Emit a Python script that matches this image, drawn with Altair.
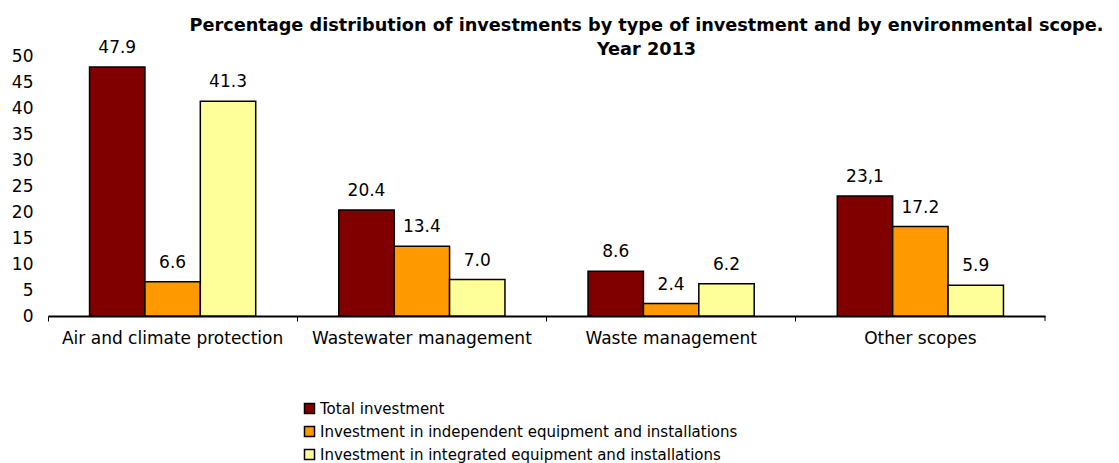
import altair as alt
import pandas as pd

categories = ["Air and climate protection", "Wastewater management",
              "Waste management", "Other scopes"]
series = ["Total investment",
          "Investment in independent equipment and installations",
          "Investment in integrated equipment and installations"]
total = [47.9, 20.4, 8.6, 23.1]
independent = [6.6, 13.4, 2.4, 17.2]
integrated = [41.3, 7.0, 6.2, 5.9]
total_labels = ["47.9", "20.4", "8.6", "23,1"]
independent_labels = ["6.6", "13.4", "2.4", "17.2"]
integrated_labels = ["41.3", "7.0", "6.2", "5.9"]
colors = ["#800000", "#FF9900", "#FFFF99"]
y_ticks = [0, 5, 10, 15, 20, 25, 30, 35, 40, 45, 50]
title_lines = ["Percentage distribution of investments by type of investment and by environmental scope.",
               "Year 2013"]

rows = []
for i, c in enumerate(categories):
    for s, vals, labs in zip(series, [total, independent, integrated],
                             [total_labels, independent_labels, integrated_labels]):
        rows.append({"category": c, "series": s, "value": vals[i], "label": labs[i]})
df = pd.DataFrame(rows)

FONT = "DejaVu Sans"
W, H = 997, 260

base = alt.Chart(df).encode(
    x=alt.X("category:N", sort=categories,
            scale=alt.Scale(paddingInner=0, paddingOuter=0),
            axis=alt.Axis(title=None, labelAngle=0, bandPosition=0,
                          domainColor="black", domainWidth=2,
                          tickColor="black", tickWidth=1, tickSize=5,
                          labelFont=FONT, labelFontSize=17, labelColor="black",
                          labelPadding=9, grid=False, labelLimit=0)),
    xOffset=alt.XOffset("series:N", sort=series,
                        scale=alt.Scale(paddingInner=0, paddingOuter=0.75)),
    y=alt.Y("value:Q", scale=alt.Scale(domain=[0, 50], nice=False),
            axis=alt.Axis(title=None, values=y_ticks, domain=False, ticks=False,
                          grid=False, labelFont=FONT, labelFontSize=17,
                          labelColor="black", labelPadding=15)),
)

bars = base.mark_bar(stroke="black", strokeWidth=1.5).encode(
    color=alt.Color("series:N", sort=series,
                    scale=alt.Scale(domain=series, range=colors),
                    legend=alt.Legend(title=None, orient="none", legendX=254, legendY=345,
                                      symbolType="square", symbolSize=100,
                                      symbolStrokeColor="black", symbolStrokeWidth=1.5,
                                      symbolOpacity=1, labelFont=FONT, labelFontSize=15,
                                      labelColor="black", rowPadding=6, labelOffset=3,
                                      padding=0, labelLimit=0, direction="vertical"))
)

text = base.mark_text(dy=-14, baseline="alphabetic", font=FONT, fontSize=17,
                      color="black").encode(text="label:N")

end_tick = alt.Chart(pd.DataFrame({"k": [0]})).mark_rule(color="black", strokeWidth=1).encode(
    x=alt.value(W), y=alt.value(H), y2=alt.value(H + 5))

chart = alt.layer(bars, text, end_tick).properties(
    width=W, height=H,
    title=alt.TitleParams(text=title_lines, font=FONT, fontSize=17.7, fontWeight="bold",
                          color="black", anchor="middle", dx=100, dy=22, offset=2,
                          lineHeight=24),
    autosize=alt.AutoSizeParams(type="none"),
    padding={"left": 40, "top": 48, "right": 66, "bottom": 147},
    background="white",
).configure_view(stroke=None)

chart.save("out.html", embed_options={"renderer": "svg", "actions": False})
